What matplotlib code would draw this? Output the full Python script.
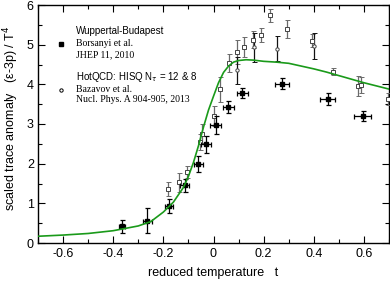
import matplotlib
matplotlib.use("Agg")
import matplotlib.pyplot as plt
from matplotlib.ticker import MultipleLocator

# Wuppertal-Budapest (filled squares, x and y errors)
wb_t = [-0.363, -0.265, -0.179, -0.115, -0.061, -0.029, 0.008, 0.059, 0.115, 0.275, 0.455, 0.595]
wb_y = [0.42, 0.56, 0.93, 1.45, 1.99, 2.49, 2.97, 3.43, 3.79, 4.02, 3.62, 3.20]
wb_yerr = [0.17, 0.32, 0.18, 0.16, 0.20, 0.21, 0.22, 0.15, 0.13, 0.13, 0.15, 0.12]
wb_xerr = [0.012, 0.018, 0.016, 0.018, 0.018, 0.02, 0.02, 0.022, 0.022, 0.028, 0.03, 0.033]

# HotQCD Nt=12 (grey open squares)
hq12_t = [-0.181, -0.139, -0.105, -0.052, -0.045, 0.001, 0.025, 0.061, 0.092, 0.121,
          0.159, 0.188, 0.225, 0.295, 0.391, 0.475, 0.575, 0.588, 0.695]
hq12_y = [1.36, 1.53, 1.78, 2.55, 2.76, 3.20, 3.87, 4.54, 4.82, 4.95,
          5.13, 5.24, 5.74, 5.39, 5.10, 4.32, 3.96, 3.98, 3.63]
hq12_yerr = [0.17, 0.24, 0.15, 0.20, 0.25, 0.25, 0.31, 0.23, 0.31, 0.25,
             0.21, 0.17, 0.17, 0.22, 0.16, 0.08, 0.26, 0.20, 0.15]

# HotQCD Nt=8 (open circles)
hq8_t = [0.092, 0.161, 0.255, 0.401]
hq8_y = [4.36, 4.93, 4.90, 4.96]
hq8_yerr = [0.34, 0.36, 0.31, 0.33]

# Model curve
curve_t = [-0.70, -0.60, -0.50, -0.40, -0.30, -0.25, -0.20, -0.16, -0.12, -0.10, -0.08,
           -0.06, -0.04, -0.02, 0.00, 0.02, 0.04, 0.06, 0.08, 0.10, 0.13, 0.16, 0.20,
           0.25, 0.30, 0.35, 0.40, 0.45, 0.50, 0.55, 0.60, 0.65, 0.70]
curve_y = [0.17, 0.20, 0.24, 0.31, 0.43, 0.54, 0.78, 1.03, 1.40, 1.68, 2.03,
           2.45, 2.92, 3.35, 3.70, 4.04, 4.30, 4.46, 4.56, 4.60, 4.62, 4.61, 4.58,
           4.56, 4.53, 4.46, 4.39, 4.31, 4.22, 4.13, 4.04, 3.96, 3.88]

plt.rcParams['font.family'] = ['Liberation Sans', 'DejaVu Sans']

fig = plt.figure(figsize=(3.9, 2.81), dpi=100)
ax = fig.add_axes([38/390, 38/281, 351/390, 238/281])

ax.plot(curve_t, curve_y, color='#1a9a1a', lw=1.2, zorder=5)

ax.errorbar(hq12_t, hq12_y, yerr=hq12_yerr, fmt='s', ms=2.4, mfc='white', mec='#444444',
            mew=0.7, ecolor='#6a6a6a', elinewidth=0.9, capsize=1.8, capthick=0.9, zorder=3)
ax.errorbar(hq8_t, hq8_y, yerr=hq8_yerr, fmt='o', ms=2.4, mfc='white', mec='#444444',
            mew=0.7, ecolor='#111111', elinewidth=0.9, capsize=1.8, capthick=0.9, zorder=3)
ax.errorbar(wb_t, wb_y, yerr=wb_yerr, xerr=wb_xerr, fmt='s', ms=2.4, mfc='black', mec='black',
            ecolor='black', elinewidth=0.9, capsize=1.8, capthick=0.9, zorder=4)

ax.set_xlim(-0.7, 0.7)
ax.set_ylim(0, 6)
ax.xaxis.set_minor_locator(MultipleLocator(0.1))
ax.yaxis.set_major_locator(MultipleLocator(1))
ax.yaxis.set_minor_locator(MultipleLocator(0.5))
ax.set_xticks([-0.6, -0.4, -0.2, 0, 0.2, 0.4, 0.6])
ax.set_xticklabels(['-0.6', '-0.4', '-0.2', '0', '0.2', '0.4', '0.6'])
ax.tick_params(which='both', direction='in', top=True, right=True, labelsize=9, width=0.8)
ax.tick_params(which='major', length=5)
ax.tick_params(axis='x', which='major', pad=3.5)
ax.tick_params(axis='y', which='major', pad=3)
ax.tick_params(which='minor', length=3)
for s in ax.spines.values():
    s.set_linewidth(1.0)

ax.set_xlabel('reduced temperature   t', fontsize=9, va='center')
ax.xaxis.set_label_coords(0.5, (243 - 273) / 238)
ax.set_ylabel('scaled trace anomaly   (ε-3p) / T$^4$', fontsize=9, va='center')
ax.yaxis.set_label_coords((11 - 38) / 351, (243 - 118) / 238)

# legend drawn as texts
def px(x, y):
    return ((x - 38) / 351, (243 - y) / 238)

kw = dict(transform=ax.transAxes, va='center', ha='left')
ax.text(*px(76, 31), 'Wuppertal-Budapest', fontsize=7, **kw)
ax.text(*px(76, 43.5), 'Borsanyi et al.', fontsize=7, family='Liberation Serif', **kw)
ax.text(*px(76, 54.5), 'JHEP 11, 2010', fontsize=7, family='Liberation Serif', **kw)
ax.text(*px(76, 77.5), 'HotQCD: HISQ N$_\\tau$ = 12 & 8', fontsize=7, **kw)
ax.text(*px(76, 89), 'Bazavov et al.', fontsize=7, family='Liberation Serif', **kw)
ax.text(*px(76, 99.5), 'Nucl. Phys. A 904-905, 2013', fontsize=7, family='Liberation Serif', **kw)
ax.plot(*px(60.5, 44), 's', ms=2.4, color='black', transform=ax.transAxes)
ax.plot(*px(60.5, 90), 'o', ms=2.4, mfc='white', mec='black', mew=0.7, transform=ax.transAxes)

fig.savefig('out.png', dpi=100)
